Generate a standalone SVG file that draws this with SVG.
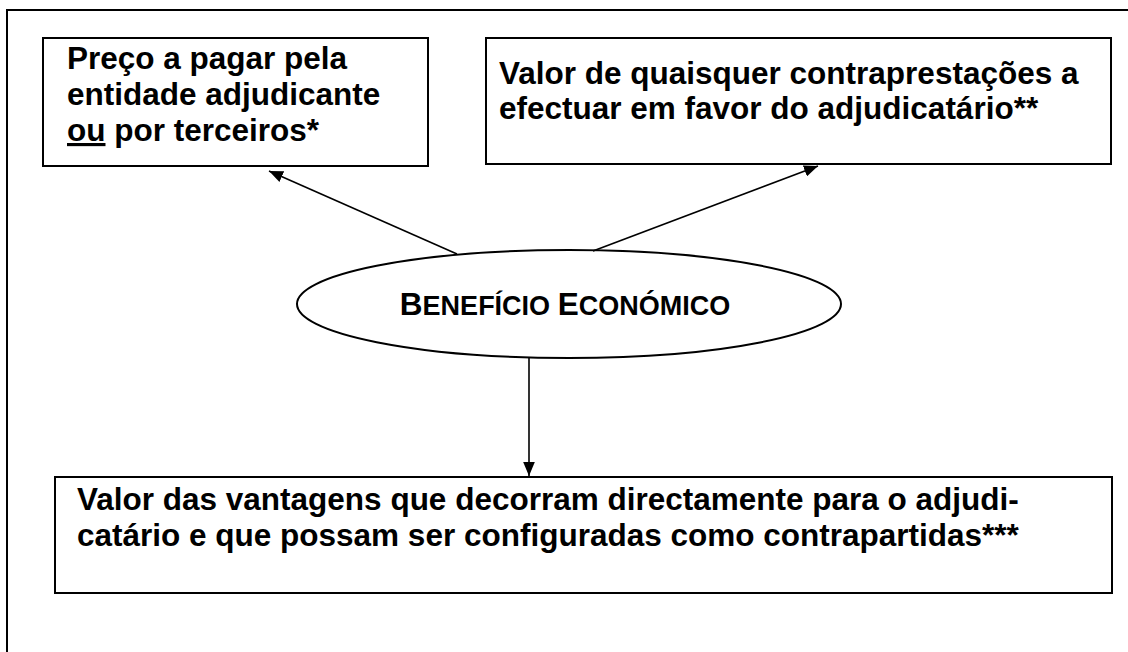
<svg xmlns="http://www.w3.org/2000/svg" width="1128" height="652" viewBox="0 0 1128 652">
<defs>
<style>
.box{fill:#fff;stroke:#000;stroke-width:2}
.t{font-family:"Liberation Sans",Arial,sans-serif;font-weight:bold;font-size:31.5px;fill:#000}
.c{stroke:#000;stroke-width:1.6;fill:none}
</style>
<marker id="ah2" viewBox="0 0 12 10" refX="12" refY="5" markerWidth="14" markerHeight="12" markerUnits="userSpaceOnUse" orient="auto"><path d="M0,0 L12,5 L0,10 z" fill="#000"/></marker>
</defs>
<rect width="1128" height="652" fill="#fff"/>
<path d="M7,652 V10 H1128" fill="none" stroke="#000" stroke-width="2"/>
<g id="n1">
<rect class="box" x="43" y="38" width="385" height="128"/>
<text class="t" x="67" y="69">Preço a pagar pela</text>
<text class="t" x="67" y="105">entidade adjudicante</text>
<text class="t" x="67" y="141"><tspan text-decoration="underline">ou</tspan> por terceiros*</text>
</g>
<g id="n2">
<rect class="box" x="486" y="38" width="625" height="126"/>
<text class="t" x="499" y="84">Valor de quaisquer contraprestações a</text>
<text class="t" x="499" y="119">efectuar em favor do adjudicatário**</text>
</g>
<g id="n3">
<ellipse cx="569" cy="304" rx="272" ry="54" fill="#fff" stroke="#000" stroke-width="2"/>
<text class="t" x="565" y="315" text-anchor="middle" font-size="33">B<tspan font-size="27">ENEFÍCIO </tspan>E<tspan font-size="27">CONÓMICO</tspan></text>
</g>
<g id="n4">
<rect class="box" x="55" y="477" width="1057" height="116"/>
<text class="t" x="77" y="510">Valor das vantagens que decorram directamente para o adjudi-</text>
<text class="t" x="77" y="546">catário e que possam ser configuradas como contrapartidas***</text>
</g>
<g id="connectors">
<line class="c" x1="457" y1="254" x2="269" y2="171" marker-end="url(#ah2)"/>
<line class="c" x1="593" y1="251" x2="818" y2="166" marker-end="url(#ah2)"/>
<line class="c" x1="529" y1="358" x2="529" y2="476" marker-end="url(#ah2)"/>
</g>
</svg>
